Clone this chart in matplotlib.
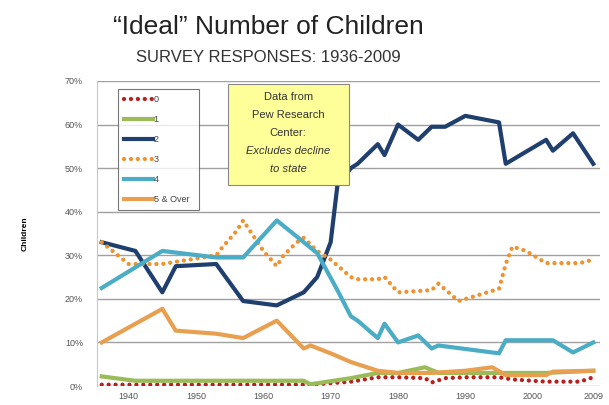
import matplotlib.pyplot as plt
from matplotlib.patches import Rectangle

plt.rcParams['font.family'] = ['Liberation Sans', 'DejaVu Sans']

# === DATA (percent of respondents) ===
years0 = [1936, 1966, 1967, 1973, 1977, 1980, 1984, 1985, 1987, 1990, 1995, 1997, 2002, 2007, 2009]
zero = [0.3, 0.3, 0.3, 1.0, 2.0, 2.0, 1.8, 0.8, 1.8, 2.0, 2.0, 1.5, 1.0, 1.0, 2.0]

years1 = [1936, 1941, 1966, 1967, 1973, 1977, 1980, 1984, 1986, 1990, 1996, 2002, 2009]
one = [2.2, 1.2, 1.2, 0.4, 1.8, 3.0, 3.0, 4.3, 3.0, 3.0, 3.0, 3.0, 3.5]

years2 = [1936, 1941, 1945, 1947, 1953, 1957, 1962, 1966, 1968, 1970, 1971, 1973, 1974,
          1977, 1978, 1980, 1983, 1985, 1987, 1990, 1995, 1996, 2002, 2003, 2006, 2009]
two = [33, 31, 21.5, 27.5, 28, 19.5, 18.5, 21.5, 25, 33, 46, 50, 51,
       55.5, 53, 60, 56.5, 59.5, 59.5, 62, 60.5, 51, 56.5, 54, 58, 51]

years3 = [1936, 1940, 1945, 1953, 1954, 1956, 1957, 1960, 1962, 1963, 1965, 1966, 1968,
          1970, 1973, 1974, 1977, 1978, 1980, 1985, 1986, 1989, 1995, 1996, 1997, 1999,
          2002, 2007, 2009]
three = [33, 28, 28, 30, 32, 35.5, 38, 31, 27.5, 30, 33, 34, 31,
         29, 25, 24.5, 24.5, 25, 21.5, 22, 23.5, 19.5, 22.3, 28, 32, 31,
         28.2, 28.2, 29]

years4 = [1936, 1945, 1953, 1957, 1962, 1966, 1968, 1971, 1973, 1974, 1977, 1978, 1980,
          1983, 1985, 1986, 1995, 1996, 2003, 2006, 2009]
four = [22.5, 31, 29.5, 29.5, 38, 33, 30.5, 22, 16, 15, 11, 14.3, 10,
        11.6, 8.6, 9.3, 7.5, 10.5, 10.5, 7.7, 10]

years5 = [1936, 1945, 1947, 1953, 1957, 1962, 1966, 1967, 1970, 1973, 1977, 1980, 1985,
          1990, 1994, 1996, 2002, 2003, 2009]
five = [10, 17.7, 12.7, 12, 11, 15, 8.6, 9.3, 7.5, 5.5, 3.5, 3, 3,
        3.5, 4.3, 2.5, 2.5, 3.3, 3.5]

labels = ['0', '1', '2', '3', '4', '5 & Over']
colors = ['#b8201f', '#9bbb59', '#1f3f6e', '#f0922e', '#4bacc6', '#e8a050']
dotted = [True, False, False, True, False, False]

xticks = [1940, 1950, 1960, 1970, 1980, 1990, 2000, 2009]
yticks = [0, 10, 20, 30, 40, 50, 60, 70]

box_lines = ['Data from', 'Pew Research', 'Center:', 'Excludes decline', 'to state']

# === PLOT ===
fig = plt.figure(figsize=(6.09, 4.05), dpi=100)
ax = fig.add_axes([97 / 609, 19 / 405, 503 / 609, 305 / 405])

series = [(years0, zero), (years1, one), (years2, two),
          (years3, three), (years4, four), (years5, five)]
handles = []
for (xs, ys), lab, col, dot in zip(series, labels, colors, dotted):
    if dot:
        ln, = ax.plot(xs, ys, color=col, lw=3.1, linestyle=(0, (0.01, 1.6)),
                      dash_capstyle='round', label=lab)
    else:
        ln, = ax.plot(xs, ys, color=col, lw=3.0, solid_joinstyle='round', label=lab)
    handles.append(ln)

ax.set_xlim(1935.3, 2010)
ax.set_ylim(0, 70)
ax.set_yticks(yticks)
ax.set_yticklabels([f'{v}%' for v in yticks])
ax.set_xticks(xticks)
ax.set_xticklabels([str(v) for v in xticks])
ax.tick_params(length=0, labelsize=6.5, labelcolor='#555555')
ax.tick_params(axis='y', pad=10)
ax.tick_params(axis='x', pad=4)
ax.grid(axis='y', color='#a0a0a0', lw=1)
ax.set_axisbelow(True)
for s in ['top', 'right', 'bottom']:
    ax.spines[s].set_visible(False)
ax.spines['left'].set_color('#c8c8c8')
ax.set_ylabel('Children', fontsize=6, fontweight='bold', labelpad=26)

leg = ax.legend(handles=handles, loc='upper left', mode='expand',
                bbox_to_anchor=(0.032, 0.593, 0.18, 0.395),
                fontsize=6.5, frameon=True, fancybox=False, handlelength=3.2,
                handletextpad=0.1, labelspacing=1.2, borderpad=0.7)
leg.get_frame().set_edgecolor('#555555')
leg.get_frame().set_linewidth(0.8)
for t in leg.get_texts():
    t.set_color('#444444')

# note box
ax.add_patch(Rectangle((0.26, 0.66), 0.24, 0.33, transform=ax.transAxes,
                       facecolor='#ffff99', edgecolor='#888888', lw=0.8, zorder=5))
for i, line in enumerate(box_lines):
    ax.text(0.38, 0.948 - i * 0.059, line, transform=ax.transAxes, ha='center', va='center',
            fontsize=8, color='#333333', style='italic' if i >= 3 else 'normal', zorder=6)

fig.text(268 / 609, 1 - 27 / 405, '\u201cIdeal\u201d Number of Children', ha='center', va='center',
         fontsize=19, color='#222222')
fig.text(268 / 609, 1 - 57 / 405, 'SURVEY RESPONSES: 1936-2009', ha='center', va='center',
         fontsize=12, color='#333333')

fig.savefig('out.png', dpi=100)
